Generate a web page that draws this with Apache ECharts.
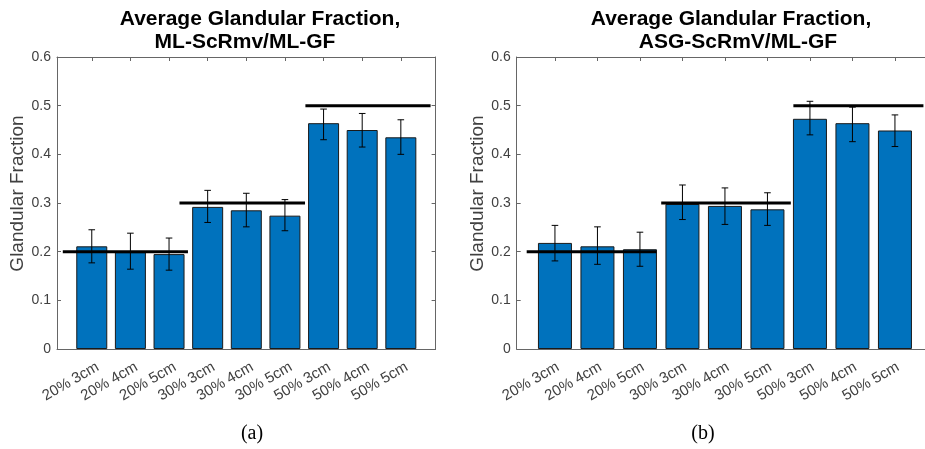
<!DOCTYPE html>
<html>
<head>
<meta charset="utf-8">
<script src="https://cdn.jsdelivr.net/npm/echarts@6/dist/echarts.min.js"></script>
<style>
html,body{margin:0;padding:0;background:#fff;overflow:hidden;}
#c{width:945px;height:449px;}
</style>
</head>
<body>
<div id="c"></div>
<script>
const categories = ['20% 3cm','20% 4cm','20% 5cm','30% 3cm','30% 4cm','30% 5cm','50% 3cm','50% 4cm','50% 5cm'];
const positions = [1,2,3,4,5,6,7,8,9];

// Panel (a)
const meanA = [0.211,0.199,0.195,0.292,0.285,0.274,0.464,0.450,0.435];
const lowA  = [0.177,0.164,0.162,0.260,0.251,0.243,0.430,0.415,0.400];
const highA = [0.245,0.238,0.228,0.326,0.320,0.307,0.493,0.484,0.471];
const refLevelA = [0.2,0.3,0.5];
const refStartA = [0.25,3.27,6.53];
const refEndA   = [3.49,6.52,9.77];

// Panel (b)
const meanB = [0.218,0.211,0.205,0.298,0.294,0.287,0.473,0.464,0.449];
const lowB  = [0.181,0.174,0.170,0.266,0.256,0.254,0.440,0.426,0.416];
const highB = [0.254,0.251,0.240,0.337,0.331,0.321,0.509,0.497,0.481];
const refLevelB = [0.2,0.3,0.5];
const refStartB = [0.335,3.50,6.61];
const refEndB   = [3.39,6.55,9.67];

const titlesA = ['Average Glandular Fraction,','ML-ScRmv/ML-GF'];
const titlesB = ['Average Glandular Fraction,','ASG-ScRmV/ML-GF'];
const captions = ['(a)','(b)'];
const yName = 'Glandular Fraction';

const FONT = '"Liberation Sans", Arial, Helvetica, sans-serif';
const SERIF = '"Liberation Serif", "Times New Roman", serif';
const AXC = '#666';
const TXC = '#404040';

const gridA = {left:57, top:57, width:378.6, height:292};
const gridB = {left:516.7, top:57, width:416.5, height:292};
const XMIN = 0.1, XMAX = 9.9;

const chart = echarts.init(document.getElementById('c'), null, {renderer:'canvas'});

function panelAxes(gi, grid, shiftPx){
  const unit = grid.width / (XMAX - XMIN);
  const labelShift = shiftPx / unit;
  const labelVals = positions.map(p => p + labelShift);
  const xa = [{
    gridIndex: gi, type:'value', min:XMIN, max:XMAX, position:'bottom',
    axisLine:{show:true, onZero:false, lineStyle:{color:AXC, width:1}},
    axisTick:{show:true, inside:true, length:4, customValues:positions, lineStyle:{color:AXC}},
    axisLabel:{show:true, customValues:labelVals, rotate:30, margin:17, color:TXC,
      fontFamily:FONT, fontSize:15, formatter:v=>categories[Math.round(v)-1] || ''},
    splitLine:{show:false}
  },{
    gridIndex: gi, type:'value', min:XMIN, max:XMAX, position:'top',
    axisLine:{show:true, onZero:false, lineStyle:{color:AXC, width:1}},
    axisTick:{show:true, inside:true, length:4, customValues:positions, lineStyle:{color:AXC}},
    axisLabel:{show:false}, splitLine:{show:false}
  }];
  const ya = [{
    gridIndex: gi, type:'value', min:0, max:0.6, interval:0.1, position:'left',
    axisLine:{show:true, lineStyle:{color:AXC, width:1}},
    axisTick:{show:true, inside:true, length:4, lineStyle:{color:AXC}},
    axisLabel:{show:true, color:TXC, fontFamily:FONT, fontSize:14, margin:6,
      formatter:v=>String(Math.round(v*10)/10)},
    splitLine:{show:false}
  },{
    gridIndex: gi, type:'value', min:0, max:0.6, interval:0.1, position:'right',
    axisLine:{show:true, lineStyle:{color:AXC, width:1}},
    axisTick:{show:true, inside:true, length:4, lineStyle:{color:AXC}},
    axisLabel:{show:false}, splitLine:{show:false}
  }];
  return {xa, ya};
}

const pA = panelAxes(0, gridA, 6), pB = panelAxes(1, gridB, 3);

function barSeries(xi, yi, mean, bw){
  return {
    type:'bar', xAxisIndex:xi, yAxisIndex:yi, barWidth:bw,
    data: positions.map((p,i)=>[p, mean[i]]),
    itemStyle:{color:'#0072BD', borderColor:'#1a1a1a', borderWidth:1},
    silent:true, z:2
  };
}
function errSeries(xi, yi, low, high){
  return {
    type:'custom', xAxisIndex:xi, yAxisIndex:yi, z:4, silent:true,
    data: positions.map((p,i)=>[p, low[i], high[i]]),
    renderItem:function(params, api){
      const lo = api.coord([api.value(0), api.value(1)]);
      const hi = api.coord([api.value(0), api.value(2)]);
      const cw = 3.3;
      const st = {stroke:'#000', lineWidth:1};
      return {type:'group', children:[
        {type:'line', shape:{x1:lo[0],y1:lo[1],x2:hi[0],y2:hi[1]}, style:st},
        {type:'line', shape:{x1:lo[0]-cw,y1:lo[1],x2:lo[0]+cw,y2:lo[1]}, style:st},
        {type:'line', shape:{x1:hi[0]-cw,y1:hi[1],x2:hi[0]+cw,y2:hi[1]}, style:st}
      ]};
    }
  };
}
function refSeries(xi, yi, lev, st, en){
  return lev.map((l,i)=>({
    type:'line', xAxisIndex:xi, yAxisIndex:yi, z:3, silent:true, symbol:'none',
    data:[[st[i], l],[en[i], l]],
    lineStyle:{color:'#000', width:3}
  }));
}

const titleStyle = {fontFamily:FONT, fontWeight:'bold', fontSize:21, color:'#000'};
const capStyle = {fontFamily:SERIF, fontWeight:'normal', fontSize:20, color:'#000'};

const option = {
  animation:false,
  backgroundColor:'#fff',
  title:[
    {text:titlesA[0], left:260, top:9, padding:0, textAlign:'center', textStyle:titleStyle},
    {text:titlesA[1], left:245, top:32, padding:0, textAlign:'center', textStyle:titleStyle},
    {text:titlesB[0], left:731, top:9, padding:0, textAlign:'center', textStyle:titleStyle},
    {text:titlesB[1], left:738, top:32, padding:0, textAlign:'center', textStyle:titleStyle},
    {text:captions[0], left:252, top:424, padding:0, textAlign:'center', textStyle:capStyle},
    {text:captions[1], left:703, top:424, padding:0, textAlign:'center', textStyle:capStyle}
  ],
  graphic:[
    {type:'text', x:18, y:193.5, rotation:Math.PI/2,
      style:{text:yName, fontFamily:FONT, fontSize:19, fill:TXC, align:'center', verticalAlign:'middle'}},
    {type:'text', x:478, y:193.5, rotation:Math.PI/2,
      style:{text:yName, fontFamily:FONT, fontSize:19, fill:TXC, align:'center', verticalAlign:'middle'}}
  ],
  grid:[
    Object.assign({containLabel:false}, gridA),
    Object.assign({containLabel:false}, gridB)
  ],
  xAxis: pA.xa.concat(pB.xa.map(a=>Object.assign({}, a, {gridIndex:1}))),
  yAxis: pA.ya.concat(pB.ya.map(a=>Object.assign({}, a, {gridIndex:1}))),
  series: [
    barSeries(0,0,meanA,31),
    errSeries(0,0,lowA,highA),
    ...refSeries(0,0,refLevelA,refStartA,refEndA),
    barSeries(2,2,meanB,34),
    errSeries(2,2,lowB,highB),
    ...refSeries(2,2,refLevelB,refStartB,refEndB)
  ]
};
chart.setOption(option);
</script>
</body>
</html>
